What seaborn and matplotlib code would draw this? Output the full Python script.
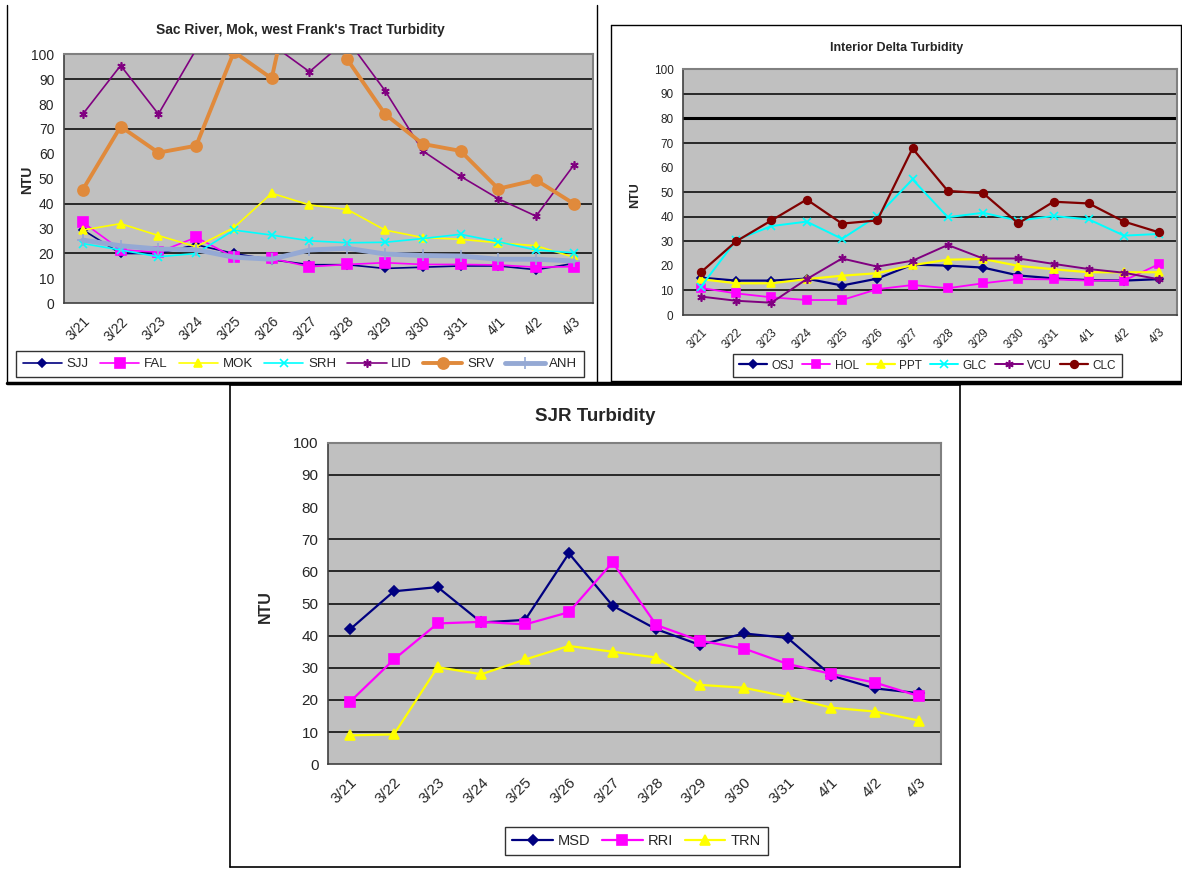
import matplotlib
matplotlib.use("Agg")
import matplotlib.pyplot as plt
from matplotlib.lines import Line2D
import seaborn as sns

# dates shared by all three charts
dates = ["3/21", "3/22", "3/23", "3/24", "3/25", "3/26", "3/27",
         "3/28", "3/29", "3/30", "3/31", "4/1", "4/2", "4/3"]

# Sac River, Mok, west Frank's Tract (values above 100 run off the chart)
sjj = [29.5, 20, 20, 23.5, 20, 17.5, 15.5, 15.5, 14, 14.5, 15, 15, 13.5, 16]
fal = [32.5, 21.5, 20.5, 26.5, 18.5, 18, 14.7, 15.6, 16.3, 15.6, 15.6, 15.4, 14.5, 14.7]
mok = [29.4, 32, 27.2, 22.7, 30.4, 44.2, 39.5, 37.7, 29.4, 26.4, 25.7, 24.3, 23.1, 18.5]
srh = [24, 21.4, 18.7, 20, 29.4, 27.4, 25.1, 24.3, 24.5, 26, 27.7, 24.7, 21.4, 20.3]
lid = [76, 95.5, 76, 102, 115, 104, 93, 106, 85.4, 61.2, 51, 42, 35, 55.5]
srv = [45.7, 71, 60.5, 63.3, 101, 90.3, 160, 98, 76, 64, 61.2, 46, 49.5, 40]
anh = [25.4, 23.1, 21.8, 21.5, 18.5, 17.7, 21.4, 22.1, 19.8, 19.2, 19, 17.7, 17.7, 17]

# Interior Delta
osj = [15.2, 14, 14, 14.8, 12, 14.8, 20.5, 20.1, 19.3, 16.1, 14.9, 14.2, 14, 14.6]
hol = [11, 8.8, 7.2, 6.1, 6.1, 10.5, 12.2, 10.9, 12.9, 14.6, 14.5, 14, 14, 20.8]
ppt = [14.6, 12.9, 12.9, 14.6, 16, 17, 20.3, 22.5, 22.8, 20, 18.6, 17.4, 17.4, 17.4]
glc = [11.5, 30.5, 36.2, 38, 31, 40.3, 55.2, 39.8, 41.6, 38.4, 40.3, 38.9, 32.3, 33]
vcu = [7.5, 5.8, 5, 14.6, 23, 19.7, 22.1, 28.5, 23, 23, 20.8, 18.7, 17.2, 14.5]
clc = [17.4, 30, 38.5, 47, 37.2, 38.5, 67.8, 50.5, 49.6, 37.3, 46.1, 45.4, 38, 33.6]

# SJR
msd = [42, 53.8, 55.1, 44.1, 44.9, 65.6, 49.3, 42, 37.1, 40.7, 39.3, 27.6, 23.6, 22.1]
rri = [19.5, 32.6, 43.8, 44.3, 43.5, 47.3, 62.8, 43.3, 38.4, 36, 31.2, 28.1, 25.4, 21.2]
trn = [9, 9.3, 30.2, 28, 32.6, 36.8, 35, 33.2, 24.7, 23.8, 21, 17.6, 16.4, 13.6]

W, H = 1182, 869


def frac(x0, y0, x1, y1):
    # pixel box (top-left origin) -> figure fraction rect
    return [x0 / W, 1 - y1 / H, (x1 - x0) / W, (y1 - y0) / H]


def fx(x):
    return x / W


def fy(y):
    return 1 - y / H


sns.set_style("white")
plt.rcParams["font.family"] = ["Liberation Sans", "DejaVu Sans"]

fig = plt.figure(figsize=(W / 100, H / 100), dpi=100)


def frame(x0, y0, x1, y1, sides="lrtb", lw=1.0):
    segs = {"l": ([x0, x0], [y0, y1]), "r": ([x1, x1], [y0, y1]),
            "t": ([x0, x1], [y0, y0]), "b": ([x0, x1], [y1, y1])}
    for s in sides:
        xs, ys = segs[s]
        fig.add_artist(Line2D([fx(v) for v in xs], [fy(v) for v in ys],
                              color="black", lw=lw))


def setup_axes(ax, grid_vals, fs, thick=()):
    ax.set_facecolor("#C0C0C0")
    ax.set_xlim(-0.5, len(dates) - 0.5)
    ax.set_ylim(0, 100)
    ax.set_yticks(range(0, 101, 10))
    for g in grid_vals:
        ax.axhline(g, color="black", lw=2.2 if g in thick else 1.1, zorder=1)
    ax.set_xticks(range(len(dates)))
    ax.set_xticklabels(dates, rotation=45, ha="right", rotation_mode="anchor")
    ax.set_xticks([i - 0.5 for i in range(len(dates) + 1)], minor=True)
    ax.tick_params(axis="x", which="major", length=0, labelsize=fs, pad=8)
    ax.tick_params(axis="x", which="minor", length=4, direction="out", color="#404040")
    ax.tick_params(axis="y", length=4, direction="out", labelsize=fs, color="#404040", pad=3)
    ax.set_xlabel("")
    ax.set_ylabel("")
    for s in ["top", "right"]:
        ax.spines[s].set_color("#808080")
        ax.spines[s].set_linewidth(1.5)
    for s in ["left", "bottom"]:
        ax.spines[s].set_color("#404040")
        ax.spines[s].set_linewidth(1.2)


def draw(ax, series):
    for name, vals, color, marker, ms, lw in series:
        sns.lineplot(x=dates, y=vals, ax=ax, color=color, marker=marker, ms=ms,
                     lw=lw, mec=color, mfc=color, mew=1.2, label=name, sort=False,
                     zorder=3)
    handles, labels = ax.get_legend_handles_labels()
    if ax.get_legend() is not None:
        ax.get_legend().remove()
    return handles, labels


def add_legend(handles, labels, box, fs, ncol, hlen=3.0):
    x0, y0, x1, y1 = box
    leg = fig.legend(handles, labels, loc="center", ncol=ncol, mode="expand",
                     bbox_to_anchor=(fx(x0), fy(y1), fx(x1) - fx(x0), fy(y0) - fy(y1)),
                     fontsize=fs, frameon=True, fancybox=False, edgecolor="black",
                     handlelength=hlen, handletextpad=0.35, borderaxespad=0,
                     columnspacing=0.6, borderpad=0.5)
    leg.get_frame().set_linewidth(1.0)


# ---- top-left: Sac River, Mok, west Frank's Tract ----
frame(7, 5, 597, 383, sides="lrb")
frame(7, 381, 1182, 383, sides="b", lw=2.5)
ax1 = fig.add_axes(frac(64, 54.3, 592.7, 303.3))
sac = [
    ("SJJ", sjj, "#000080", "D", 4, 1.2),
    ("FAL", fal, "#FF00FF", "s", 6.5, 1.2),
    ("MOK", mok, "#FFFF00", "^", 6, 1.2),
    ("SRH", srh, "#00FFFF", "x", 6, 1.2),
    ("LID", lid, "#800080", (6, 2, 0), 6, 1.2),
    ("SRV", srv, "#E08A3C", "o", 8, 2.8),
    ("ANH", anh, "#95A9D4", "+", 9, 3.5),
]
setup_axes(ax1, [20, 40, 70, 90], 10)
h, l = draw(ax1, sac)
add_legend(h, l, (16, 345, 584, 383), 9.5, 7, hlen=3.0)
fig.text(fx(300), fy(30), "Sac River, Mok, west Frank's Tract Turbidity",
         ha="center", va="center", fontsize=10, fontweight="bold")
fig.text(fx(27), fy(180), "NTU", rotation=90, ha="center", va="center",
         fontsize=10, fontweight="bold")

# ---- top-right: Interior Delta ----
frame(611, 25, 1181, 381, sides="lrtb")
ax2 = fig.add_axes(frac(683.3, 69.3, 1177, 315))
interior = [
    ("OSJ", osj, "#000080", "D", 4.5, 1.6),
    ("HOL", hol, "#FF00FF", "s", 6, 1.3),
    ("PPT", ppt, "#FFFF00", "^", 5.5, 1.6),
    ("GLC", glc, "#00FFFF", "x", 5.5, 1.4),
    ("VCU", vcu, "#800080", (6, 2, 0), 6, 1.4),
    ("CLC", clc, "#800000", "o", 5.5, 1.6),
]
setup_axes(ax2, [10, 30, 40, 50, 70, 80, 90], 8.5, thick=(80,))
h, l = draw(ax2, interior)
add_legend(h, l, (733, 353, 1122, 378), 8.5, 6, hlen=2.4)
fig.text(fx(897), fy(48), "Interior Delta Turbidity", ha="center", va="center",
         fontsize=9, fontweight="bold")
fig.text(fx(635), fy(195), "NTU", rotation=90, ha="center", va="center",
         fontsize=9, fontweight="bold")

# ---- bottom: SJR ----
frame(230, 385, 960, 867, sides="lrtb", lw=1.2)
ax3 = fig.add_axes(frac(328.3, 442.7, 940.7, 764.3))
sjr = [
    ("MSD", msd, "#000080", "D", 5.5, 1.6),
    ("RRI", rri, "#FF00FF", "s", 7.5, 1.6),
    ("TRN", trn, "#FFFF00", "^", 7.5, 1.6),
]
setup_axes(ax3, [10, 20, 30, 40, 50, 60, 70, 90], 11)
h, l = draw(ax3, sjr)
add_legend(h, l, (505, 825, 768, 857), 10.5, 3, hlen=2.8)
fig.text(fx(595), fy(417), "SJR Turbidity", ha="center", va="center",
         fontsize=13.5, fontweight="bold")
fig.text(fx(265), fy(607), "NTU", rotation=90, ha="center", va="center",
         fontsize=11.5, fontweight="bold")

fig.savefig("out.png", dpi=100)
